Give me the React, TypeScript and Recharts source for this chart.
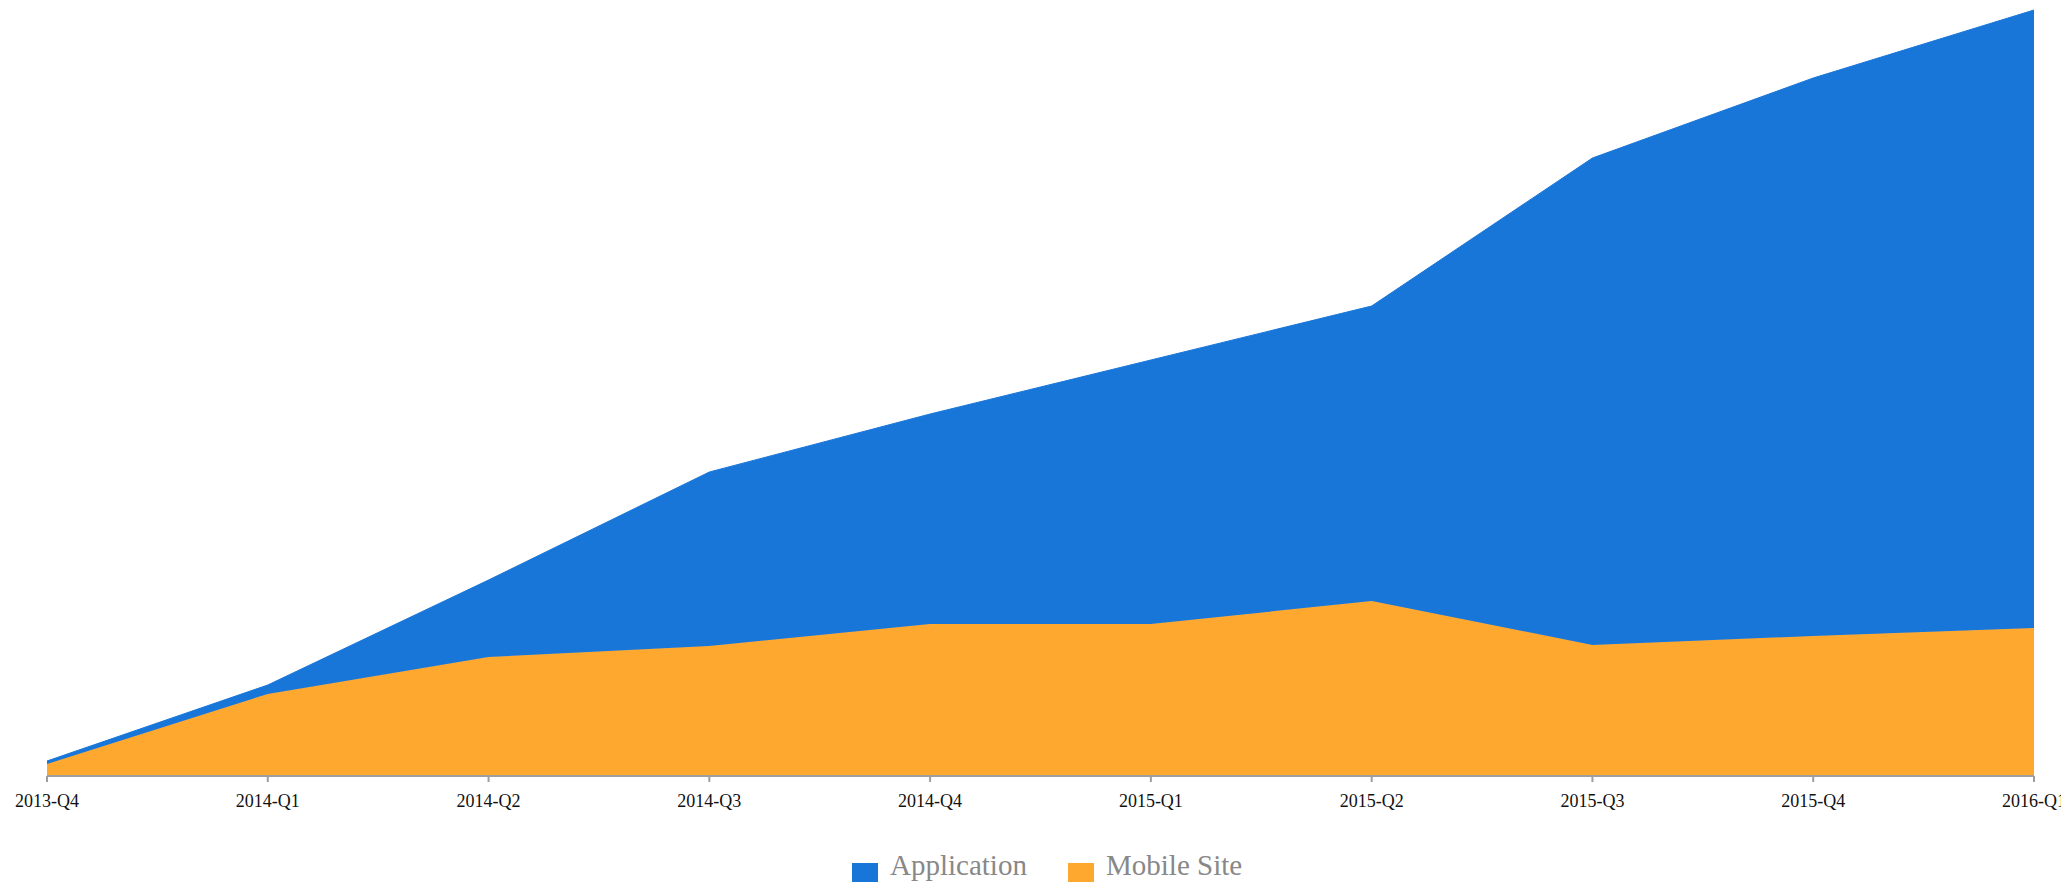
import React from 'react';
import { AreaChart, Area, XAxis, YAxis, Legend } from 'recharts';

const quarters = ['2013-Q4', '2014-Q1', '2014-Q2', '2014-Q3', '2014-Q4', '2015-Q1', '2015-Q2', '2015-Q3', '2015-Q4', '2016-Q1'];
const mobileSite = [12, 82, 119, 130, 152, 152, 175, 131, 140, 148];
const application = [3, 9, 77, 174, 210, 264, 295, 487, 558, 618];
const seriesNames = ['Application', 'Mobile Site'];
const seriesColors = ['#1976d9', '#ffa82f'];

const data = quarters.map((q, i) => ({ quarter: q, mobile: mobileSite[i], app: application[i] }));

const FONT = '"Liberation Serif", serif';
const W = 2069;

const LegendContent = () => (
  <div style={{ position: 'relative', height: 66, width: W }}>
    {[0, 1].map((k) => {
      const left = k === 0 ? 852 : 1068;
      return (
        <React.Fragment key={k}>
          <div style={{ position: 'absolute', left, top: 47, width: 26, height: 27, background: seriesColors[k] }} />
          <span
            style={{
              position: 'absolute',
              left: left + 38,
              top: 35,
              fontSize: 29,
              lineHeight: 1,
              fontFamily: FONT,
              color: '#888888',
              whiteSpace: 'nowrap',
            }}
          >
            {seriesNames[k]}
          </span>
        </React.Fragment>
      );
    })}
  </div>
);

export default function App() {
  return (
    <div style={{ width: W, height: 874, marginLeft: -8 }}>
      <style>{`html, body { overflow: hidden; } .recharts-surface { overflow: visible !important; }`}</style>
      <AreaChart width={W} height={874} data={data} margin={{ top: 2, right: 35, left: 47, bottom: 0 }}>
        <XAxis
          dataKey="quarter"
          interval={0}
          height={40}
          tickSize={6}
          tickMargin={12}
          axisLine={{ stroke: '#9e9e9e', strokeWidth: 2 }}
          tickLine={{ stroke: '#9e9e9e', strokeWidth: 2 }}
          tick={{ fill: '#111111', fontSize: 18, fontFamily: FONT }}
        />
        <YAxis hide domain={[0, 'dataMax']} />
        <Area
          type="linear"
          dataKey="mobile"
          name={seriesNames[1]}
          stackId="a"
          stroke={seriesColors[1]}
          strokeWidth={1}
          fill={seriesColors[1]}
          fillOpacity={1}
          isAnimationActive={false}
          dot={false}
          activeDot={false}
        />
        <Area
          type="linear"
          dataKey="app"
          name={seriesNames[0]}
          stackId="a"
          stroke={seriesColors[0]}
          strokeWidth={1}
          fill={seriesColors[0]}
          fillOpacity={1}
          isAnimationActive={false}
          dot={false}
          activeDot={false}
        />
        <Legend
          verticalAlign="bottom"
          content={<LegendContent />}
          wrapperStyle={{ left: 0, width: W, height: 66 }}
        />
      </AreaChart>
    </div>
  );
}
